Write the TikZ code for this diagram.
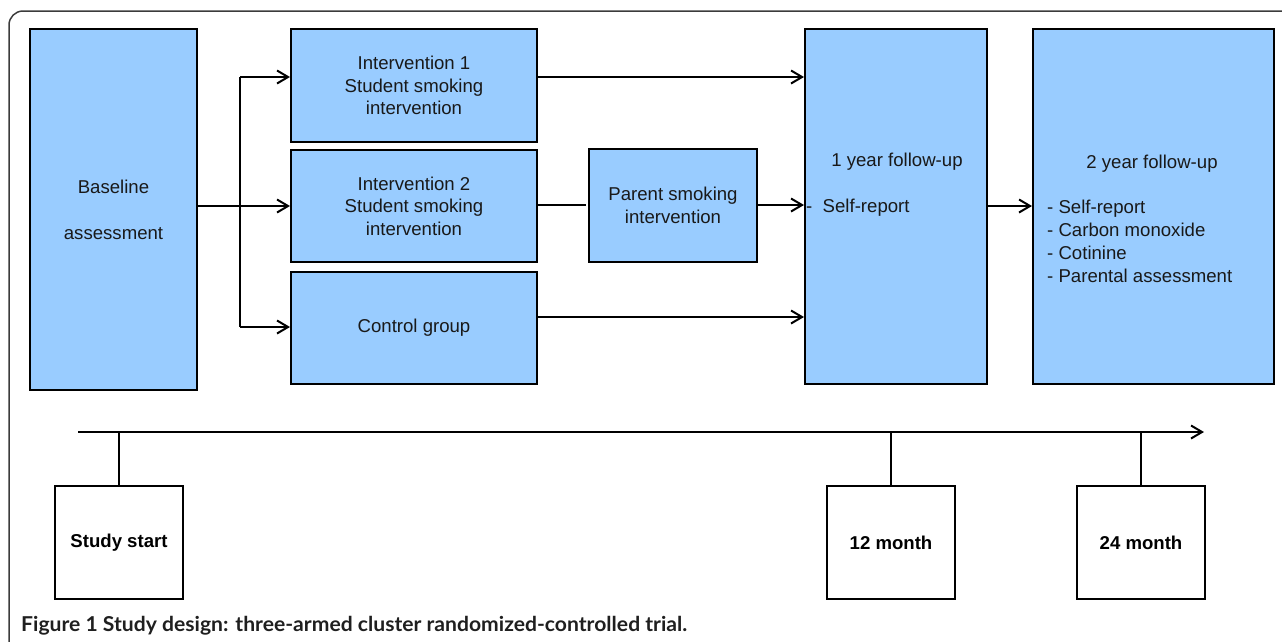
\documentclass[tikz,border=0pt]{standalone}
\usepackage{fontspec}
\usepackage{graphicx}
\setmainfont{Liberation Sans}
\newfontfamily\capfont{Lato}
\usetikzlibrary{arrows.meta}
\definecolor{boxblue}{RGB}{153,204,255}
\definecolor{framegray}{RGB}{60,60,60}
\tikzset{
  bluebox/.style={draw=black, line width=2pt, fill=boxblue, inner sep=0pt, align=center,
    font=\fontsize{18.6}{22.5}\selectfont, text=black!90},
  whitebox/.style={draw=black, line width=2pt, fill=white, inner sep=0pt,
    font=\bfseries\fontsize{18.6}{22.5}\selectfont, minimum width=128pt, minimum height=113pt},
  plaintext/.style={inner sep=0pt, font=\fontsize{18.6}{23}\selectfont, text=black!90},
  conn/.style={line width=2pt, draw=black},
  arr/.style={conn, -{Straight Barb[length=11pt,width=13pt,line width=2pt]}},
}
\begin{document}
\begin{tikzpicture}[x=1pt,y=-1pt]
\useasboundingbox (0,0) rectangle (1282,641);
\clip (0,0) rectangle (1282,641);
% outer frame
\draw[framegray, line width=1.5pt, rounded corners=14pt] (9,660) -- (9,11) -- (1300,11);

% blue boxes
\node[bluebox, minimum width=167pt, minimum height=361pt] (base) at (113.5,209.5) {Baseline\\[23.5pt]assessment};
\node[bluebox, minimum width=246pt, minimum height=113pt] (i1) at (414,85.5) {Intervention 1\\Student smoking\\intervention};
\node[bluebox, minimum width=246pt, minimum height=112pt] (i2) at (414,206) {Intervention 2\\Student smoking\\intervention};
\node[bluebox, minimum width=246pt, minimum height=112pt] (ctrl) at (414,327.5) {Control group};
\node[bluebox, minimum width=168pt, minimum height=113pt] (par) at (673,205.5) {Parent smoking\\intervention};
\node[bluebox, minimum width=182pt, minimum height=355pt] (y1) at (896,206.5) {};
\node[bluebox, minimum width=241pt, minimum height=355pt] (y2) at (1153.5,206.5) {};

% texts in follow-up boxes
\node[plaintext, anchor=base] (y1t) at (897,166) {1 year follow-up};
\node[plaintext, anchor=base west] (y1s) at (806,212) {-\ \ Self-report};
\node[plaintext, anchor=base] (y2t) at (1152,168) {2 year follow-up};
\node[plaintext, anchor=base west] (y2a) at (1047,213) {- Self-report};
\node[plaintext, anchor=base west] (y2b) at (1047,236) {- Carbon monoxide};
\node[plaintext, anchor=base west] (y2c) at (1047,259) {- Cotinine};
\node[plaintext, anchor=base west] (y2d) at (1047,282) {- Parental assessment};

% connectors
\coordinate (br) at (240,206);
\draw[conn] (base.east |- br) -- (br);
\draw[arr] (240,77) -- (i1.west |- 0,77);
\draw[arr] (br) -- (i2.west |- br);
\draw[arr] (240,327) -- (ctrl.west |- 0,327);
\draw[conn] (240,77) -- (240,327);
\draw[arr] (i1.east |- 0,77) -- (y1.west |- 0,77);
\draw[arr] (ctrl.east |- 0,317) -- (y1.west |- 0,317);
\draw[conn] (i2.east |- 0,205) -- (586,205);
\draw[arr] (par.east |- 0,205) -- (y1.west |- 0,205);
\draw[arr] (y1.east |- 0,206) -- (y2.west |- 0,206);

% timeline
\coordinate (t0) at (78,432);
\coordinate (t1) at (1204,432);
\draw[arr] (t0) -- (t1);
\node[whitebox] (s0) at (119,542.5) {Study start};
\node[whitebox] (s12) at (891,542.5) {12 month};
\node[whitebox] (s24) at (1141,542.5) {24 month};
\draw[conn] (s0.north) -- (s0.north |- t0);
\draw[conn] (s12.north) -- (s12.north |- t0);
\draw[conn] (s24.north) -- (s24.north |- t0);

% caption
\node[anchor=base west, inner sep=0pt, font=\capfont\bfseries\fontsize{20.5}{22}\selectfont, text=black!88] (cap) at (21,631)
  {\resizebox{666pt}{\height}{Figure 1 Study design: three-armed cluster randomized-controlled trial.}};
\end{tikzpicture}
\end{document}
